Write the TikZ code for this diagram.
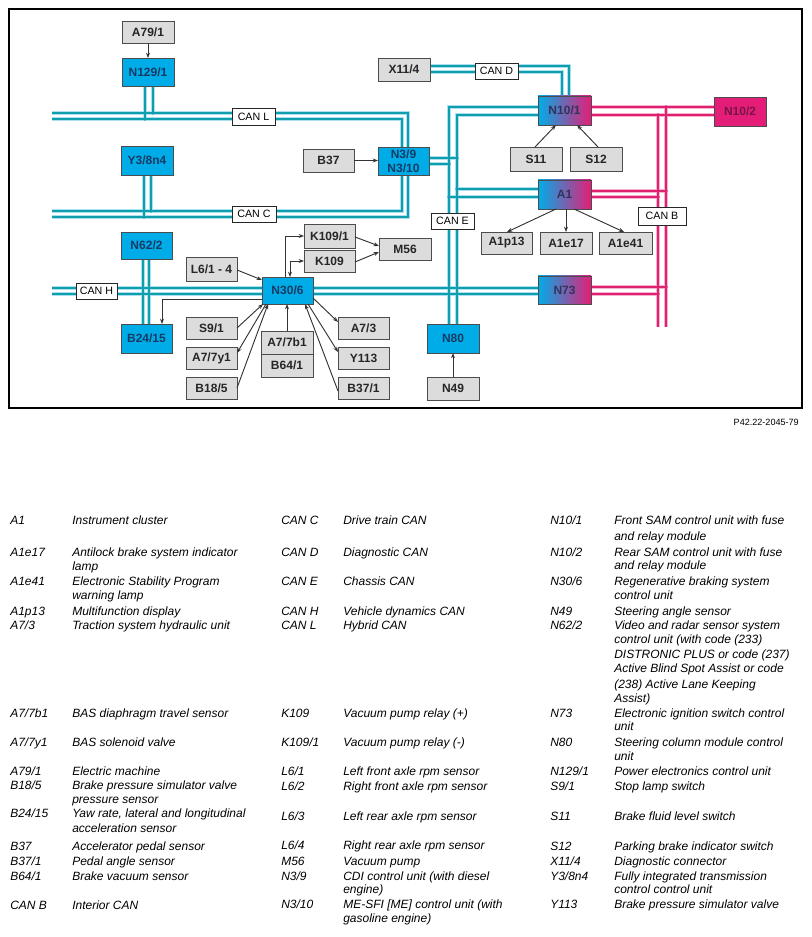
\documentclass[tikz,border=0pt]{standalone}
\usepackage{fontspec}
\setmainfont{Liberation Sans}
\usetikzlibrary{arrows.meta,backgrounds}
\definecolor{busT}{RGB}{15,158,172}
\definecolor{haloT}{RGB}{170,224,242}
\definecolor{busM}{RGB}{222,34,112}
\definecolor{haloM}{RGB}{246,178,206}
\definecolor{ecuB}{RGB}{0,172,232}
\definecolor{ecuM}{RGB}{228,30,120}
\definecolor{gFill}{RGB}{220,220,220}
\definecolor{tB}{RGB}{22,58,100}
\definecolor{tM}{RGB}{120,20,70}
\definecolor{tG}{RGB}{50,50,90}

\newcommand\mybox[7]{\node[#1, minimum width={(#5-#3)*0.75pt}, minimum height={(#6-#4)*0.75pt}] (#2) at ({(#3+#5)/2},{(#4+#6)/2}) {#7};}

\newcommand\tealbus[1]{%
 % CAN L
 \draw[#1] (Lw1) -- (408,113) -- (408,0 |- N39.north);
 \draw[#1] (Lw2) -- (402,119) -- (402,0 |- N39.north);
 \draw[#1] (153,0 |- N129.south) -- (153,113);
 \draw[#1] (145,0 |- N129.south) -- (145,119);
 % CAN C
 \draw[#1] (Cw1) -- (402,211) -- (402,0 |- N39.south);
 \draw[#1] (Cw2) -- (408,217) -- (408,0 |- N39.south);
 \draw[#1] (151,0 |- Y38.south) -- (151,211);
 \draw[#1] (144,0 |- Y38.south) -- (144,217);
 % CAN H
 \draw[#1] (Hw1) -- (0,288 -| N73.west);
 \draw[#1] (Hw2) -- (0,294 -| N73.west);
 \draw[#1] (149,0 |- N622.south) -- (149,0 |- B2415.north);
 \draw[#1] (143,0 |- N622.south) -- (143,0 |- B2415.north);
 % CAN D
 \draw[#1] (0,66 -| X114.east) -- (569,66) -- (569,0 |- N101.north);
 \draw[#1] (0,72 -| X114.east) -- (562,72) -- (562,0 |- N101.north);
 % CAN E
 \draw[#1] (0,107 -| N101.west) -- (449,107) -- (449,0 |- N80.north);
 \draw[#1] (0,115 -| N101.west) -- (457,115) -- (457,0 |- N80.north);
 \draw[#1] (0,158 -| N39.east) -- (457,158);
 \draw[#1] (0,164 -| N39.east) -- (449,164);
 \draw[#1] (457,189) -- (0,189 -| A1.west);
 \draw[#1] (449,197) -- (0,197 -| A1.west);
}
\newcommand\magbus[1]{%
 \draw[#1] (0,107 -| N101.east) -- (0,107 -| N102.west);
 \draw[#1] (0,115 -| N101.east) -- (0,115 -| N102.west);
 \draw[#1] (666,107) -- (Bb2);
 \draw[#1] (658,115) -- (Bb1);
 \draw[#1] (0,191 -| A1.east) -- (666,191);
 \draw[#1] (0,197 -| A1.east) -- (658,197);
 \draw[#1] (0,287 -| N73.east) -- (666,287);
 \draw[#1] (0,294 -| N73.east) -- (658,294);
}

\begin{document}
\begin{tikzpicture}[x=0.75pt,y=-0.75pt,
  box/.style={draw=black!70, line width=0.7pt, inner sep=0pt, outer sep=0pt, align=center, font=\fontsize{9}{10.5}\selectfont\bfseries},
  gbox/.style={box, fill=gFill, text=black!85},
  bbox/.style={box, fill=ecuB, text=tB},
  mbox/.style={box, fill=ecuM, text=tM},
  hbox/.style={box, left color=ecuB, right color=ecuM, text=tG},
  canlbl/.style={draw=black!85, fill=white, line width=0.6pt, inner sep=0pt, outer sep=0pt, font=\fontsize{8}{9}\selectfont},
  arr/.style={draw=black!80, line width=0.7pt, -{Stealth[length=4pt,width=3pt]}},
  arrtwo/.style={draw=black!80, line width=0.7pt, {Stealth[length=4pt,width=3pt]}-{Stealth[length=4pt,width=3pt]}},
  hT/.style={draw=haloT, line width=3.2pt},
  cT/.style={draw=busT, line width=1.4pt},
  hM/.style={draw=haloM, line width=3.2pt},
  cM/.style={draw=busM, line width=1.4pt},
  leg/.style={anchor=base west, inner sep=0pt, font=\fontsize{9}{10.5}\selectfont\itshape}
]
\useasboundingbox (0,0) rectangle (811,937);
\draw[line width=0.8pt] (9,9) rectangle (802,408);

% bus free ends
\coordinate (Lw1) at (52,113);
\coordinate (Lw2) at (52,119);
\coordinate (Cw1) at (52,211);
\coordinate (Cw2) at (52,217);
\coordinate (Hw1) at (52,288);
\coordinate (Hw2) at (52,294);
\coordinate (Bb1) at (658,327);
\coordinate (Bb2) at (666,327);

% boxes
\mybox{gbox}{A791}{122}{21}{174}{43}{A79/1}
\mybox{bbox}{N129}{122}{58}{174}{86}{N129/1}
\mybox{bbox}{Y38}{121}{146}{173}{175}{Y3/8n4}
\mybox{bbox}{N622}{121}{232}{172}{259}{N62/2}
\mybox{bbox}{B2415}{121}{324}{172}{353}{B24/15}
\mybox{gbox}{B37}{303}{149}{354}{172}{B37}
\mybox{bbox}{N39}{378}{147}{429}{175}{N3/9\\N3/10}
\mybox{gbox}{X114}{378}{58}{430}{81}{X11/4}
\mybox{hbox}{N101}{538}{96}{591}{125}{N10/1}
\mybox{mbox}{N102}{714}{97}{766}{126}{N10/2}
\mybox{gbox}{S11}{510}{147}{562}{171}{S11}
\mybox{gbox}{S12}{570}{147}{622}{171}{S12}
\mybox{hbox}{A1}{538}{180}{591}{209}{A1}
\mybox{gbox}{A1p13}{481}{232}{532}{254}{A1p13}
\mybox{gbox}{A1e17}{540}{232}{592}{254}{A1e17}
\mybox{gbox}{A1e41}{599}{232}{652}{254}{A1e41}
\mybox{hbox}{N73}{538}{276}{591}{304}{N73}
\mybox{bbox}{N80}{427}{324}{479}{353}{N80}
\mybox{gbox}{N49}{427}{377}{479}{400}{N49}
\mybox{gbox}{L61}{186}{257}{237}{281}{L6/1 - 4}
\mybox{gbox}{K1091}{304}{224}{355}{248}{K109/1}
\mybox{gbox}{K109}{304}{250}{355}{272}{K109}
\mybox{gbox}{M56}{379}{238}{431}{260}{M56}
\mybox{bbox}{N306}{262}{277}{313}{304}{N30/6}
\mybox{gbox}{S91}{186}{317}{237}{339}{S9/1}
\mybox{gbox}{A77y1}{186}{347}{237}{369}{A7/7y1}
\mybox{gbox}{B185}{186}{377}{237}{399}{B18/5}
\mybox{gbox}{A77b1}{261}{331}{313}{354}{A7/7b1}
\mybox{gbox}{B641}{261}{354}{313}{377}{B64/1}
\mybox{gbox}{A73}{338}{317}{389}{339}{A7/3}
\mybox{gbox}{Y113}{338}{347}{389}{369}{Y113}
\mybox{gbox}{B371}{338}{377}{389}{399}{B37/1}

% CAN labels
\mybox{canlbl}{cL}{232}{108}{275}{125}{CAN L}
\mybox{canlbl}{cC}{232}{206}{276}{222}{CAN C}
\mybox{canlbl}{cH}{76}{283}{117}{299}{CAN H}
\mybox{canlbl}{cD}{475}{63}{518}{79}{CAN D}
\mybox{canlbl}{cE}{431}{213}{474}{229}{CAN E}
\mybox{canlbl}{cB}{638}{207}{686}{225}{CAN B}

% buses
\begin{pgfonlayer}{background}
\tealbus{hT}
\magbus{hM}
\tealbus{cT}
\magbus{cM}
\foreach \p in {(153,113),(145,119),(151,211),(144,217),(149,288),(143,294),(457,158),(449,164),(457,189),(449,197),(457,288),(449,294)}
  \fill[busT] \p circle (1.9);
\foreach \p in {(666,107),(658,115),(666,191),(658,197),(666,287),(658,294)}
  \fill[busM] \p circle (1.9);
\end{pgfonlayer}

% arrows
\draw[arr] (A791.south) -- (N129.north);
\draw[arr] (B37.east) -- (B37.east -| N39.west);
\draw[arr] (N49.north) -- (N80.south);
\draw[arr] (535,0 |- S11.north) -- (556,0 |- N101.south);
\draw[arr] (598,0 |- S12.north) -- (577,0 |- N101.south);
\draw[arr] (556,0 |- A1.south) -- (507,0 |- A1p13.north);
\draw[arr] (566,0 |- A1.south) -- (566,0 |- A1e17.north);
\draw[arr] (574,0 |- A1.south) -- (624,0 |- A1e41.north);
\draw[arr] (0,270 -| L61.east) -- (N306.west |- 0,280);
\draw[arr] (285,0 |- N306.north) |- (K1091.west);
\draw[arrtwo] (K109.west) -| (290,0 |- N306.north);
\draw[arr] (0,237 -| K1091.east) -- (0,246 -| M56.west);
\draw[arr] (0,262 -| K109.east) -- (0,252 -| M56.west);
\draw[arr] (0,299 -| N306.west) -| (162,0 |- B2415.north);
\draw[arr] (S91.east) -- (263,0 |- N306.south);
\draw[arr] (266,0 |- N306.south) -- (0,353 -| A77y1.east);
\draw[arr] (0,388 -| B185.east) -- (268,0 |- N306.south);
\draw[arr] (A77b1.north) -- (A77b1.north |- N306.south);
\draw[arr] (0,298 -| N306.east) -- (0,322 -| A73.west);
\draw[arr] (308,0 |- N306.south) -- (0,352 -| Y113.west);
\draw[arr] (0,391 -| B371.west) -- (305,0 |- N306.south);

\node[anchor=base east, inner sep=0pt, font=\fontsize{6.8}{8}\selectfont] (code) at (799,425) {P42.22-2045-79};

% legend
\foreach \xx/\yy/\txt [count=\n] in {
 10/524/{A1}, 72/524/{Instrument cluster},
 10/556/{A1e17}, 72/556/{Antilock brake system indicator}, 72/570/{lamp},
 10/585/{A1e41}, 72/585/{Electronic Stability Program}, 72/599/{warning lamp},
 10/615/{A1p13}, 72/615/{Multifunction display},
 10/629/{A7/3}, 72/629/{Traction system hydraulic unit},
 10/717/{A7/7b1}, 72/717/{BAS diaphragm travel sensor},
 10/746/{A7/7y1}, 72/746/{BAS solenoid valve},
 10/775/{A79/1}, 72/775/{Electric machine},
 10/789/{B18/5}, 72/789/{Brake pressure simulator valve}, 72/803/{pressure sensor},
 10/817/{B24/15}, 72/817/{Yaw rate, lateral and longitudinal}, 72/832/{acceleration sensor},
 10/850/{B37}, 72/850/{Accelerator pedal sensor},
 10/865/{B37/1}, 72/865/{Pedal angle sensor},
 10/880/{B64/1}, 72/880/{Brake vacuum sensor},
 10/909/{CAN B}, 72/909/{Interior CAN}}
 \node[leg] (la\n) at (\xx,\yy) {\txt};

\foreach \xx/\yy/\txt [count=\n] in {
 281/524/{CAN C}, 343/524/{Drive train CAN},
 281/556/{CAN D}, 343/556/{Diagnostic CAN},
 281/585/{CAN E}, 343/585/{Chassis CAN},
 281/615/{CAN H}, 343/615/{Vehicle dynamics CAN},
 281/629/{CAN L}, 343/629/{Hybrid CAN},
 281/717/{K109}, 343/717/{Vacuum pump relay (+)},
 281/746/{K109/1}, 343/746/{Vacuum pump relay (-)},
 281/775/{L6/1}, 343/775/{Left front axle rpm sensor},
 281/790/{L6/2}, 343/790/{Right front axle rpm sensor},
 281/820/{L6/3}, 343/820/{Left rear axle rpm sensor},
 281/849/{L6/4}, 343/849/{Right rear axle rpm sensor},
 281/865/{M56}, 343/865/{Vacuum pump},
 281/880/{N3/9}, 343/880/{CDI control unit (with diesel}, 343/893/{engine)},
 281/908/{N3/10}, 343/908/{ME-SFI [ME] control unit (with}, 343/922/{gasoline engine)}}
 \node[leg] (lb\n) at (\xx,\yy) {\txt};

\foreach \xx/\yy/\txt [count=\n] in {
 550/524/{N10/1}, 614/524/{Front SAM control unit with fuse}, 614/540/{and relay module},
 550/556/{N10/2}, 614/556/{Rear SAM control unit with fuse}, 614/569/{and relay module},
 550/585/{N30/6}, 614/585/{Regenerative braking system}, 614/599/{control unit},
 550/615/{N49}, 614/615/{Steering angle sensor},
 550/629/{N62/2}, 614/629/{Video and radar sensor system}, 614/643/{control unit (with code (233)},
 614/658/{DISTRONIC PLUS or code (237)}, 614/672/{Active Blind Spot Assist or code},
 614/688/{(238) Active Lane Keeping}, 614/702/{Assist)},
 550/717/{N73}, 614/717/{Electronic ignition switch control}, 614/730/{unit},
 550/746/{N80}, 614/746/{Steering column module control}, 614/760/{unit},
 550/775/{N129/1}, 614/775/{Power electronics control unit},
 550/790/{S9/1}, 614/790/{Stop lamp switch},
 550/820/{S11}, 614/820/{Brake fluid level switch},
 550/850/{S12}, 614/850/{Parking brake indicator switch},
 550/865/{X11/4}, 614/865/{Diagnostic connector},
 550/880/{Y3/8n4}, 614/880/{Fully integrated transmission}, 614/893/{control control unit},
 550/908/{Y113}, 614/908/{Brake pressure simulator valve}}
 \node[leg] (lc\n) at (\xx,\yy) {\txt};
\end{tikzpicture}
\end{document}
